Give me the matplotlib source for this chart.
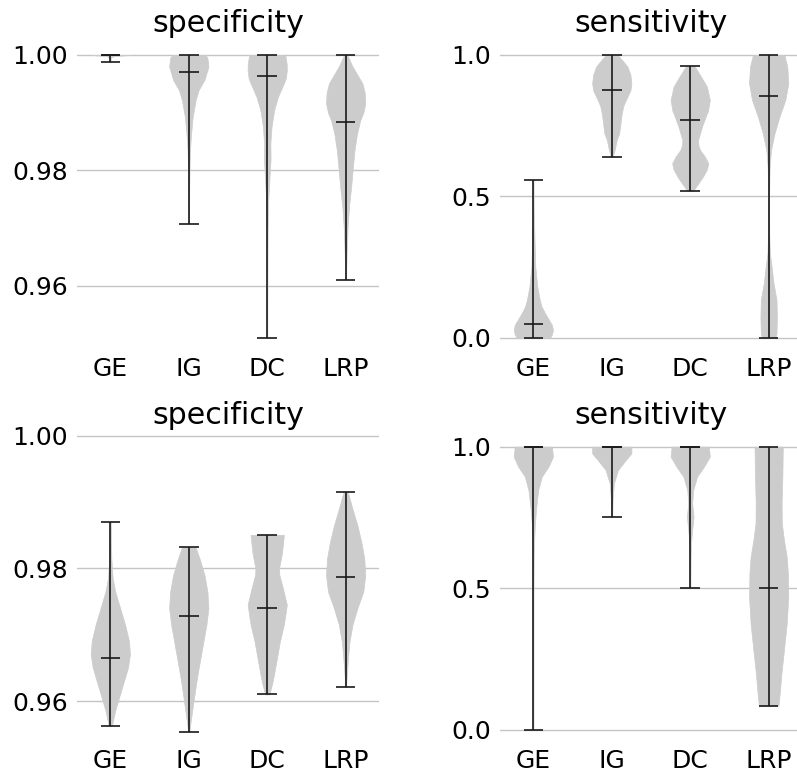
import matplotlib
matplotlib.use("Agg")
import matplotlib.pyplot as plt

plt.rcParams["font.size"] = 18

METHODS = ["GE", "IG", "DC", "LRP"]

# ----------------------------------------------------------
# top row, specificity
# ----------------------------------------------------------
spec_a_min = [0.99873, 0.97075, 0.9509, 0.9610]
spec_a_max = [1.0, 1.0, 1.0, 1.0]
spec_a_median = [1.0, 0.9970, 0.9963, 0.98838]
spec_a_coords = [
    [0.99873, 0.9990, 0.9993, 0.9996, 0.9998, 1.0],
    [0.97075, 0.9760, 0.9806, 0.9835, 0.9864, 0.9893, 0.9922, 0.9939,
     0.9957, 0.9980, 0.9995, 1.0],
    [0.9509, 0.960, 0.96908, 0.97486, 0.9790, 0.9820, 0.98468, 0.98757,
     0.99046, 0.99277, 0.9951, 0.9960, 0.9974, 0.9985, 1.0],
    [0.961, 0.9656, 0.97023, 0.9737, 0.97717, 0.98064, 0.9835, 0.98642,
     0.98873, 0.9900, 0.9916, 0.9935, 0.9951, 0.998, 1.0],
]
spec_a_density = [
    [0.01, 0.01, 0.02, 0.05, 0.2, 1.0],
    [0.01, 0.02, 0.04, 0.06, 0.12, 0.2, 0.35, 0.5, 0.8, 1.0, 0.95, 0.85],
    [0.005, 0.01, 0.02, 0.05, 0.12, 0.17, 0.16, 0.22, 0.35, 0.55, 0.85,
     0.95, 1.0, 0.99, 0.92],
    [0.02, 0.05, 0.1, 0.17, 0.28, 0.37, 0.45, 0.58, 0.75, 0.9, 1.0, 0.97,
     0.85, 0.35, 0.08],
]

# ----------------------------------------------------------
# top row, sensitivity
# ----------------------------------------------------------
sens_a_min = [0.0, 0.6403, 0.52, 0.0]
sens_a_max = [0.5578, 1.0, 0.9623, 1.0]
sens_a_median = [0.0472, 0.876, 0.77, 0.855]
sens_a_coords = [
    [0.0, 0.012, 0.027, 0.045, 0.0625, 0.086, 0.11, 0.133, 0.18, 0.25,
     0.37, 0.45, 0.5578],
    [0.6403, 0.665, 0.699, 0.723, 0.746, 0.79, 0.817, 0.83, 0.8526, 0.875,
     0.8998, 0.93, 0.9587, 0.98, 1.0],
    [0.52, 0.5342, 0.5696, 0.595, 0.6167, 0.64, 0.664, 0.68, 0.699, 0.7465,
     0.7936, 0.8, 0.8408, 0.888, 0.9233, 0.94, 0.9623],
    [0.0, 0.015, 0.074, 0.133, 0.192, 0.251, 0.30, 0.369, 0.487, 0.605,
     0.664, 0.7229, 0.7818, 0.8408, 0.8998, 0.9587, 1.0],
]
sens_a_density = [
    [0.85, 0.95, 1.0, 0.95, 0.8, 0.6, 0.42, 0.33, 0.2, 0.1, 0.05, 0.02,
     0.01],
    [0.05, 0.15, 0.25, 0.38, 0.42, 0.5, 0.58, 0.65, 0.8, 0.95, 1.0, 0.95,
     0.8, 0.55, 0.3],
    [0.15, 0.3, 0.65, 0.85, 0.92, 0.75, 0.5, 0.42, 0.4, 0.6, 0.85, 0.9,
     1.0, 0.85, 0.55, 0.4, 0.2],
    [0.35, 0.4, 0.42, 0.4, 0.25, 0.15, 0.06, 0.03, 0.02, 0.05, 0.12, 0.3,
     0.55, 0.85, 1.0, 0.95, 0.8],
]

# ----------------------------------------------------------
# bottom row, specificity
# ----------------------------------------------------------
spec_b_min = [0.95627, 0.95537, 0.961, 0.96209]
spec_b_max = [0.98697, 0.98318, 0.98507, 0.99159]
spec_b_median = [0.96657, 0.97289, 0.97403, 0.97871]
spec_b_coords = [
    [0.95627, 0.9586, 0.9606, 0.96308, 0.96507, 0.96706, 0.96906, 0.97154,
     0.9740, 0.97652, 0.9785, 0.9815, 0.98697],
    [0.95537, 0.95662, 0.9591, 0.9616, 0.96408, 0.96657, 0.96906, 0.97154,
     0.97403, 0.97652, 0.979, 0.98149, 0.98318],
    [0.961, 0.9626, 0.9641, 0.96657, 0.96906, 0.97154, 0.97453, 0.9770,
     0.9790, 0.9800, 0.9823, 0.98507],
    [0.96209, 0.96408, 0.96657, 0.96906, 0.97154, 0.97403, 0.97652, 0.979,
     0.98149, 0.98398, 0.98647, 0.98896, 0.99159],
]
spec_b_density = [
    [0.08, 0.25, 0.45, 0.7, 0.9, 1.0, 0.95, 0.75, 0.5, 0.25, 0.12, 0.05,
     0.02],
    [0.03, 0.08, 0.2, 0.32, 0.45, 0.6, 0.75, 0.9, 1.0, 0.95, 0.8, 0.55,
     0.35],
    [0.1, 0.25, 0.35, 0.5, 0.65, 0.85, 1.0, 0.8, 0.62, 0.6, 0.75, 0.85],
    [0.02, 0.06, 0.12, 0.2, 0.35, 0.6, 0.9, 1.0, 0.95, 0.8, 0.6, 0.35,
     0.1],
]

# ----------------------------------------------------------
# bottom row, sensitivity
# ----------------------------------------------------------
sens_b_min = [0.0, 0.7503, 0.5, 0.0848]
sens_b_max = [1.0, 1.0, 1.0, 1.0]
sens_b_median = [1.0, 1.0, 1.0, 0.5]
sens_b_coords = [
    [0.0, 0.25, 0.5, 0.611, 0.67, 0.729, 0.788, 0.8469, 0.894, 0.9293,
     0.9647, 1.0],
    [0.7503, 0.8115, 0.87, 0.9176, 0.9529, 0.9764, 1.0],
    [0.5, 0.6, 0.66, 0.7055, 0.7526, 0.80, 0.8469, 0.894, 0.9293, 0.9647,
     1.0],
    [0.0848, 0.14, 0.199, 0.2815, 0.3757, 0.47, 0.5524, 0.611, 0.67,
     0.729, 0.8, 0.9, 1.0],
]
sens_b_density = [
    [0.005, 0.005, 0.01, 0.02, 0.04, 0.08, 0.15, 0.25, 0.43, 0.77, 1.0,
     0.95],
    [0.02, 0.04, 0.1, 0.3, 0.68, 0.95, 0.95],
    [0.01, 0.02, 0.04, 0.1, 0.17, 0.1, 0.15, 0.35, 0.7, 1.0, 0.95],
    [0.5, 0.58, 0.65, 0.78, 0.92, 1.0, 0.98, 0.92, 0.78, 0.67, 0.66, 0.7,
     0.72],
]

TITLES = ["specificity", "sensitivity", "specificity", "sensitivity"]
YTICKS_SPEC = [0.96, 0.98, 1.00]
YTICKS_SENS = [0.0, 0.5, 1.0]


def draw_panel(ax, coords, density, mins, maxs, medians, title, yticks,
               ylim):
    stats = []
    for c, d, lo, hi, med in zip(coords, density, mins, maxs, medians):
        stats.append({"coords": c, "vals": d, "min": lo, "max": hi,
                      "median": med, "mean": med})
    positions = list(range(1, len(METHODS) + 1))
    parts = ax.violin(stats, positions=positions, widths=0.5,
                      showmedians=True)
    for body in parts["bodies"]:
        body.set_facecolor("#cccccc")
        body.set_edgecolor("#cccccc")
        body.set_linewidth(0.5)
        body.set_alpha(1)
    for key in ["cmaxes", "cmins", "cbars", "cmedians"]:
        parts[key].set_color("#1a1a1a")
        parts[key].set_linewidth(1.2)

    ax.set_xticks(positions)
    ax.set_xticklabels(METHODS)
    ax.set_yticks(yticks)
    ax.set_xlim(0.575, 4.425)
    ax.set_ylim(*ylim)
    ax.set_title(title)
    ax.yaxis.grid(True, color="#c4c4c4", linewidth=1)
    ax.set_axisbelow(True)
    for s in ax.spines.values():
        s.set_visible(False)
    ax.tick_params(axis="y", length=0, pad=6.5)
    ax.tick_params(axis="x", length=0, pad=4.0)


fig = plt.figure(figsize=(7.97, 7.74), dpi=100)
W, H = 797.0, 774.0

ax1 = fig.add_axes([77 / W, (H - 351.8) / H, 302 / W, 311 / H])
ax2 = fig.add_axes([500 / W, (H - 351.8) / H, 302 / W, 311 / H])
ax3 = fig.add_axes([77 / W, (H - 743.9) / H, 302 / W, 311.4 / H])
ax4 = fig.add_axes([500 / W, (H - 743.9) / H, 302 / W, 311.4 / H])

draw_panel(ax1, spec_a_coords, spec_a_density, spec_a_min, spec_a_max,
           spec_a_median, TITLES[0], YTICKS_SPEC, (0.94853, 1.00246))
draw_panel(ax2, sens_a_coords, sens_a_density, sens_a_min, sens_a_max,
           sens_a_median, TITLES[1], YTICKS_SENS, (-0.05, 1.05))
draw_panel(ax3, spec_b_coords, spec_b_density, spec_b_min, spec_b_max,
           spec_b_median, TITLES[2], YTICKS_SPEC, (0.95355, 1.0005))
draw_panel(ax4, sens_b_coords, sens_b_density, sens_b_min, sens_b_max,
           sens_b_median, TITLES[3], YTICKS_SENS, (-0.05, 1.05))

fig.savefig("out.png", dpi=100)
plt.close(fig)
